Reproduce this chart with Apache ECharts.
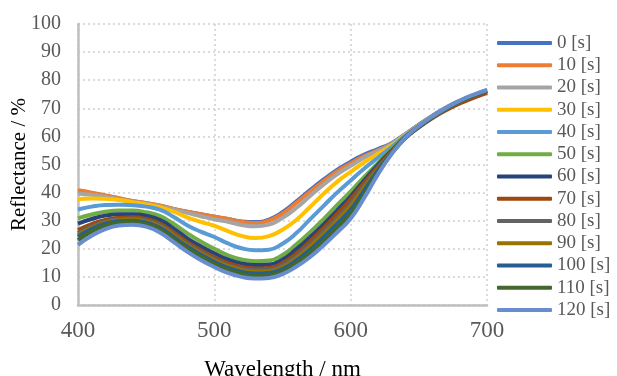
<!DOCTYPE html>
<html>
<head>
<meta charset="utf-8">
<script src="https://cdn.jsdelivr.net/npm/echarts@6/dist/echarts.min.js"></script>
<style>
html,body{margin:0;padding:0;background:#fff;}
#chart{width:617px;height:376px;}
</style>
</head>
<body>
<div id="chart"></div>
<script>
const wavelengths = [400, 410, 420, 430, 440, 450, 460, 470, 480, 490, 500, 510, 520, 530, 540, 550, 560, 570, 580, 590, 600, 610, 620, 630, 640, 650, 660, 670, 680, 690, 700];
const seriesNames = ['0 [s]', '10 [s]', '20 [s]', '30 [s]', '40 [s]', '50 [s]', '60 [s]', '70 [s]', '80 [s]', '90 [s]', '100 [s]', '110 [s]', '120 [s]'];
const s0   = [40.5, 39.8, 38.9, 37.9, 36.9, 36.2, 35.3, 34.2, 33.2, 32.3, 31.4, 30.6, 29.7, 29.5, 30.4, 33.0, 36.8, 40.8, 44.6, 48.1, 51.0, 53.5, 55.5, 57.6, 60.8, 64.2, 67.4, 70.3, 72.7, 74.7, 76.5];
const s10  = [40.8, 40.0, 39.0, 38.0, 37.0, 36.3, 35.4, 34.2, 33.2, 32.3, 31.4, 30.6, 29.6, 29.2, 30.0, 32.5, 36.3, 40.2, 44.0, 47.5, 50.4, 53.0, 55.0, 57.3, 60.6, 64.0, 67.2, 70.0, 72.3, 74.3, 76.0];
const s20  = [39.7, 39.2, 38.5, 37.6, 36.7, 36.0, 35.1, 33.9, 32.8, 31.6, 30.5, 29.6, 28.5, 28.0, 28.6, 31.0, 34.5, 38.7, 42.8, 46.5, 49.5, 52.5, 54.8, 57.3, 60.6, 64.0, 67.2, 70.1, 72.5, 74.6, 76.3];
const s30  = [37.7, 37.9, 37.8, 37.4, 36.6, 35.8, 34.8, 33.2, 31.2, 29.6, 28.2, 26.3, 24.6, 23.8, 24.5, 26.8, 30.2, 34.8, 39.5, 43.8, 47.4, 50.8, 53.8, 56.8, 60.4, 63.9, 67.1, 70.0, 72.5, 74.6, 76.2];
const s40  = [34.0, 35.0, 35.6, 35.7, 35.5, 35.0, 33.9, 31.4, 28.4, 26.1, 24.2, 21.9, 20.2, 19.5, 19.7, 21.8, 25.5, 30.4, 35.2, 40.0, 44.3, 48.6, 52.4, 56.2, 60.2, 63.8, 67.0, 70.0, 72.5, 74.6, 76.2];
const s50  = [30.8, 32.2, 33.2, 33.6, 33.6, 33.0, 31.7, 28.9, 25.6, 22.6, 20.0, 17.7, 16.2, 15.6, 15.8, 17.8, 21.5, 25.8, 30.5, 35.5, 40.4, 45.6, 50.5, 55.2, 59.8, 63.6, 66.9, 69.9, 72.4, 74.5, 76.1];
const s60  = [29.0, 30.6, 31.8, 32.3, 32.3, 31.8, 30.3, 27.3, 23.8, 20.9, 18.4, 16.2, 14.8, 14.2, 14.4, 16.2, 19.8, 24.0, 28.6, 33.6, 38.7, 44.4, 49.9, 54.9, 59.7, 63.5, 66.8, 69.8, 72.3, 74.4, 76.0];
const s70  = [26.7, 28.8, 30.3, 31.0, 31.2, 30.6, 29.0, 25.9, 22.4, 19.6, 17.0, 14.9, 13.6, 13.0, 13.2, 14.9, 18.3, 22.6, 27.3, 32.4, 37.7, 43.6, 49.3, 54.6, 59.5, 63.2, 66.5, 69.3, 71.7, 73.7, 75.5];
const s80  = [25.6, 28.0, 29.7, 30.6, 30.8, 30.1, 28.5, 25.3, 21.8, 19.0, 16.4, 14.3, 13.0, 12.4, 12.6, 14.2, 17.4, 21.6, 26.1, 31.1, 36.3, 42.7, 48.8, 54.4, 59.5, 63.4, 66.8, 69.8, 72.3, 74.4, 76.1];
const s90  = [25.0, 27.5, 29.3, 30.2, 30.4, 29.7, 28.0, 24.8, 21.3, 18.5, 15.9, 13.8, 12.4, 11.8, 12.0, 13.5, 16.6, 20.6, 25.1, 30.0, 35.2, 41.8, 48.3, 54.2, 59.4, 63.4, 66.8, 69.8, 72.3, 74.4, 76.1];
const s100 = [24.3, 27.0, 28.9, 29.8, 30.0, 29.3, 27.5, 24.2, 20.8, 17.9, 15.3, 13.2, 11.8, 11.2, 11.4, 12.8, 15.8, 19.6, 24.0, 28.8, 33.9, 40.8, 47.8, 54.0, 59.4, 63.4, 66.8, 69.8, 72.4, 74.5, 76.1];
const s110 = [23.1, 26.2, 28.3, 29.3, 29.6, 28.8, 26.9, 23.6, 20.1, 17.2, 14.6, 12.5, 11.1, 10.5, 10.7, 12.0, 14.8, 18.5, 22.7, 27.5, 32.5, 39.5, 47.0, 53.9, 59.4, 63.5, 66.9, 69.9, 72.5, 74.6, 76.2];
const s120 = [21.4, 24.6, 27.0, 28.3, 28.6, 27.9, 25.8, 22.5, 19.0, 16.0, 13.5, 11.4, 10.0, 9.4, 9.6, 11.0, 13.6, 17.0, 21.2, 25.8, 30.8, 38.2, 46.5, 53.7, 59.5, 63.7, 67.1, 70.1, 72.7, 74.8, 76.5];
const allValues = [s0, s10, s20, s30, s40, s50, s60, s70, s80, s90, s100, s110, s120];
const colors = ['#4472C4', '#ED7D31', '#A5A5A5', '#FFC000', '#5B9BD5', '#70AD47', '#264478', '#9E480E', '#636363', '#997300', '#255E91', '#43682B', '#698ED0'];

const FONT = "'Liberation Serif', 'Times New Roman', serif";
const chart = echarts.init(document.getElementById('chart'), null, {renderer: 'canvas'});
const series = seriesNames.map((name, i) => ({
  name: name,
  type: 'line',
  data: wavelengths.map((w, j) => [w, allValues[i][j]]),
  smooth: 0.5,
  symbol: 'none',
  lineStyle: {width: 4, color: colors[i]},
  itemStyle: {color: colors[i]},
  animation: false
}));
chart.setOption({
  animation: false,
  backgroundColor: '#fff',
  grid: {left: 78, right: 130, top: 24, bottom: 71, outerBoundsMode: 'none', containLabel: false},
  legend: {
    orient: 'vertical',
    left: 497,
    top: 33,
    padding: 0,
    icon: 'roundRect',
    itemWidth: 55,
    itemHeight: 4,
    itemGap: 2.25,
    data: seriesNames,
    textStyle: {fontFamily: FONT, fontSize: 19, color: '#595959', lineHeight: 20, padding: [0, 0, 0, 0]}
  },
  xAxis: {
    type: 'value', min: 400, max: 700, interval: 100,
    name: 'Wavelength / nm', nameLocation: 'middle', nameGap: 53,
    nameTextStyle: {fontFamily: FONT, fontSize: 23, color: '#000'},
    axisLine: {show: true, lineStyle: {color: '#BFBFBF', width: 2.5}},
    axisTick: {show: false},
    axisLabel: {fontFamily: FONT, fontSize: 23, color: '#595959', margin: 14},
    splitLine: {show: true, lineStyle: {type: [2, 3], color: '#D0D0D0', width: 1.5}}
  },
  yAxis: {
    type: 'value', min: 0, max: 100, interval: 10,
    name: 'Reflectance / %', nameLocation: 'middle', nameGap: 48, nameMoveOverlap: false,
    nameTextStyle: {fontFamily: FONT, fontSize: 21, color: '#000'},
    axisLine: {show: true, lineStyle: {color: '#BFBFBF', width: 2.5}},
    axisTick: {show: false},
    axisLabel: {fontFamily: FONT, fontSize: 20, color: '#595959', margin: 17},
    splitLine: {show: true, lineStyle: {type: [2, 3], color: '#D0D0D0', width: 1.5}}
  },
  series: series
});
</script>
</body>
</html>
